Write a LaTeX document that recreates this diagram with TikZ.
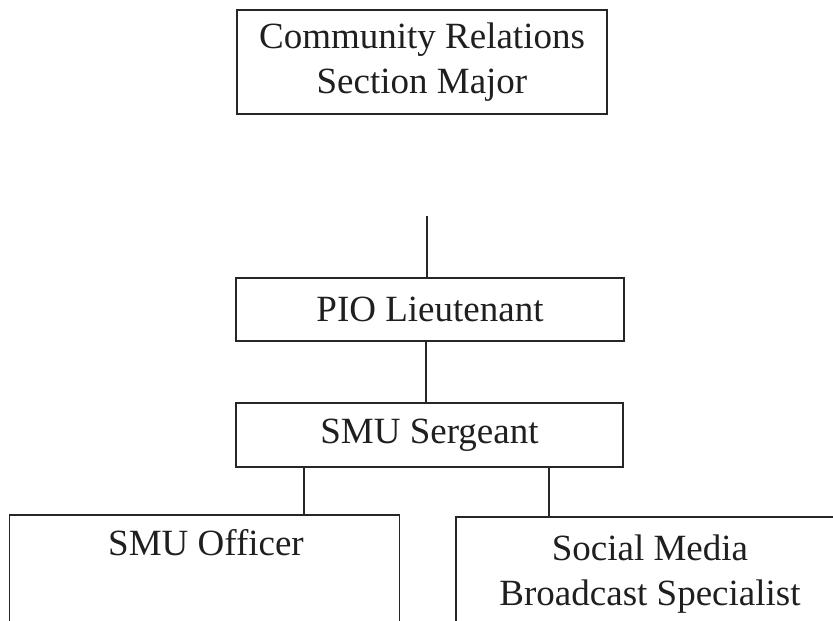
\documentclass[tikz,border=0pt]{standalone}
\usepackage{fontspec}
\setmainfont{Liberation Serif}
\begin{document}
\begin{tikzpicture}[x=1pt,y=-1pt,
  line width=1.3pt,
  every node/.style={font=\fontsize{37}{45}\selectfont, text=black!88},
  box/.style={draw=black!85, rectangle, inner sep=0pt, align=center},
  link/.style={draw=black!85, line width=1.3pt}]
\useasboundingbox (0,0) rectangle (833,621);
% boxes
\node[box, minimum width=370, minimum height=104] (major) at (422,62) {Community Relations\\Section Major};
\node[box, minimum width=388, minimum height=63] (pio) at (430,309.5) {PIO Lieutenant};
\node[box, minimum width=387, minimum height=64] (smu) at (429.5,435) {SMU Sergeant};
% bottom boxes (cut off by the page edge)
\node[inner sep=0pt, minimum width=389, minimum height=106, anchor=north] (offbox) at (204.5,515) {};
\node[inner sep=0pt, minimum width=390, minimum height=106, anchor=north west] (smbbox) at (456,517) {};
\draw[link] (offbox.south west) ++(0,-1) -- (offbox.north west) -- (offbox.north east) -- (offbox.south east);
\draw[link] (offbox.south west) ++(0,-1) -- ++(125,0);
\draw[link] (smbbox.south west) -- (smbbox.north west) -- (smbbox.north east);
\node (officer) at (206,543) {SMU Officer};
\node[align=center] (smb) at (650,574) {Social Media\\Broadcast Specialist};
% connectors
\coordinate (topend) at (427,216);
\coordinate (xl) at (304,0);
\coordinate (xr) at (549,0);
\draw[link] (topend) -- (topend |- pio.north);
\draw[link] (pio.south -| 426,0) -- (smu.north -| 426,0);
\draw[link] (smu.south -| xl) -- (offbox.north -| xl);
\draw[link] (smu.south -| xr) -- (smbbox.north -| xr);
\end{tikzpicture}
\end{document}
